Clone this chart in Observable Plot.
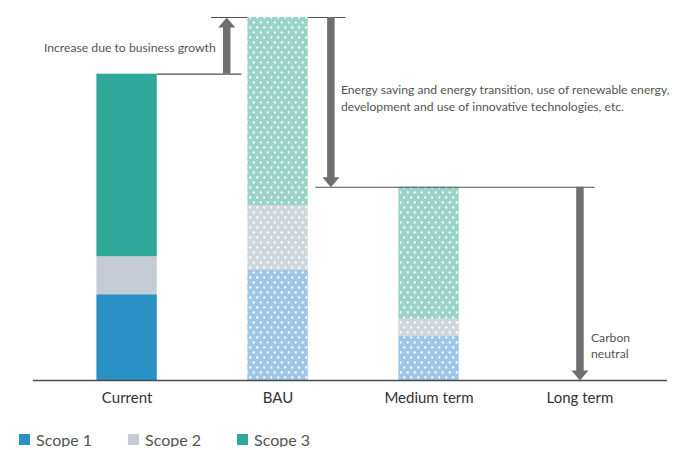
<!DOCTYPE html>
<html>
<head>
<meta charset="utf-8">
<script src="https://cdn.jsdelivr.net/npm/d3@7"></script>
<script src="https://cdn.jsdelivr.net/npm/@observablehq/plot@0.6"></script>
<style>
  body { margin: 0; background: #fff; }
  #legend { display: flex; padding: 16px 0 0 19px; font-family: Lato, "Liberation Sans", sans-serif; font-size: 16px; color: #555; }
  #legend .item { display: flex; align-items: center; width: 109px; height: 15px; line-height: 15px; }
  #legend .sw { width: 11px; height: 11px; margin-right: 6px; flex: none; }
</style>
</head>
<body>
<div id="chart"></div>
<div id="legend"></div>
<script>
// Emissions by scope for each period (Current = 100)
const periods = ["Current", "BAU", "Medium term", "Long term"];
const scopes = ["Scope 1", "Scope 2", "Scope 3"];
const scope1 = [28, 35.9, 14.4, 0];
const scope2 = [12.4, 21.2, 5.6, 0];
const scope3 = [59.6, 61.4, 43.1, 0];
const projected = [false, true, true, true];

const growthText = "Increase due to business growth";
const cutText = "Energy saving and energy transition, use of renewable energy,\ndevelopment and use of innovative technologies, etc.";
const neutralText = "Carbon\nneutral";

// colours: solid for actual emissions, dotted tint for projections
const solid = ["#2a91c4", "#c5ccd4", "#2fa899"];
const tint = ["#9ec6e6", "#d0d7dc", "#9ad3c8"];

const series = [scope1, scope2, scope3];
const totals = periods.map((_, i) => d3.sum(series, s => s[i]));

// stacked segments
const rows = [];
periods.forEach((p, i) => {
  let base = 0;
  series.forEach((s, k) => {
    rows.push({
      i, period: p, scope: scopes[k], y1: base, y2: base + s[i],
      fill: projected[i] ? `url(#dots-${k})` : solid[k]
    });
    base += s[i];
  });
});

// layout along the period axis
const half = 0.2;        // half a bar width
const growthX = 0.66;    // arrow between Current and BAU
const cutX = 1.35;       // arrow right of BAU
const neutralX = 3;      // arrow at Long term
const tick = 0.1;        // guide lines run this far past an arrow

const arrows = [
  {x: growthX, from: totals[0], to: totals[1]},
  {x: cutX, from: totals[1], to: totals[2]},
  {x: neutralX, from: totals[2], to: totals[3]}
];
const up = arrows.filter(a => a.to > a.from);
const down = arrows.filter(a => a.to < a.from);

const guides = [
  {y: totals[0], x1: 0 + half, x2: growthX + tick},
  {y: totals[1], x1: growthX - tick, x2: 1 - half},
  {y: totals[1], x1: 1 + half, x2: cutX + tick},
  {y: totals[2], x1: cutX - tick, x2: neutralX + tick}
];

// filled arrowhead, tip at the origin pointing down
const head = {
  draw(ctx) {
    ctx.moveTo(0, 0);
    ctx.lineTo(-8.5, -10);
    ctx.lineTo(8.5, -10);
    ctx.closePath();
  }
};

const arrowColor = "#6f6f6f";
const lineColor = "#505050";
const noteSize = 12.2;

const chart = Plot.plot({
  width: 681,
  height: 416,
  marginTop: 17,
  marginBottom: 36,
  marginLeft: 33,
  marginRight: 14,
  style: {fontFamily: "Lato, 'Liberation Sans', sans-serif", background: "#fff"},
  x: {domain: [-0.62, 3.58]},
  y: {domain: [0, d3.max(totals)], axis: null},
  marks: [
    Plot.rect(rows, {
      x1: d => d.i - half, x2: d => d.i + half,
      y1: "y1", y2: "y2", fill: "fill"
    }),
    Plot.ruleY([0], {stroke: "#4a4a4a", strokeWidth: 1.6}),
    Plot.ruleY(guides, {y: "y", x1: "x1", x2: "x2", stroke: lineColor, strokeWidth: 1.1}),
    Plot.ruleX(up, {x: "x", y1: "to", y2: "from", insetTop: 8, stroke: arrowColor, strokeWidth: 7.5}),
    Plot.ruleX(down, {x: "x", y1: "from", y2: "to", insetBottom: 8, stroke: arrowColor, strokeWidth: 7.5}),
    Plot.dot(arrows, {
      x: "x", y: "to", symbol: head, fill: arrowColor, stroke: null,
      rotate: d => d.to > d.from ? 180 : 0
    }),
    Plot.text([arrows[0]], {
      x: "x", y: d => (d.from + d.to) / 2, text: () => growthText,
      textAnchor: "end", dx: -11, dy: 2,
      fontSize: noteSize, fill: "#555"
    }),
    Plot.text([arrows[1]], {
      x: "x", y: "from", text: () => cutText,
      textAnchor: "start", dx: 10, dy: 80, lineHeight: 1.38,
      fontSize: noteSize, fill: "#555"
    }),
    Plot.text([arrows[2]], {
      x: "x", y: "to", text: () => neutralText,
      textAnchor: "start", dx: 11, dy: -36, lineHeight: 1.36,
      fontSize: noteSize, fill: "#555"
    }),
    Plot.axisX({
      ticks: d3.range(periods.length),
      tickFormat: i => periods[i],
      tickSize: 0, tickPadding: 12,
      fontSize: 15, fill: "#333", label: null
    })
  ]
});

// dotted fills for projected segments
const defs = d3.select(chart).insert("defs", ":first-child");
tint.forEach((c, k) => {
  const p = defs.append("pattern")
    .attr("id", `dots-${k}`)
    .attr("patternUnits", "userSpaceOnUse")
    .attr("width", 7).attr("height", 10);
  p.append("rect").attr("width", 7).attr("height", 10).attr("fill", c);
  p.append("circle").attr("cx", 1.75).attr("cy", 2.5).attr("r", 1.15).attr("fill", "#fff");
  p.append("circle").attr("cx", 5.25).attr("cy", 7.5).attr("r", 1.15).attr("fill", "#fff");
});

document.getElementById("chart").append(chart);

// legend
const legend = d3.select("#legend");
scopes.forEach((s, k) => {
  const item = legend.append("div").attr("class", "item");
  item.append("div").attr("class", "sw").style("background", solid[k]);
  item.append("span").text(s);
});
</script>
</body>
</html>
